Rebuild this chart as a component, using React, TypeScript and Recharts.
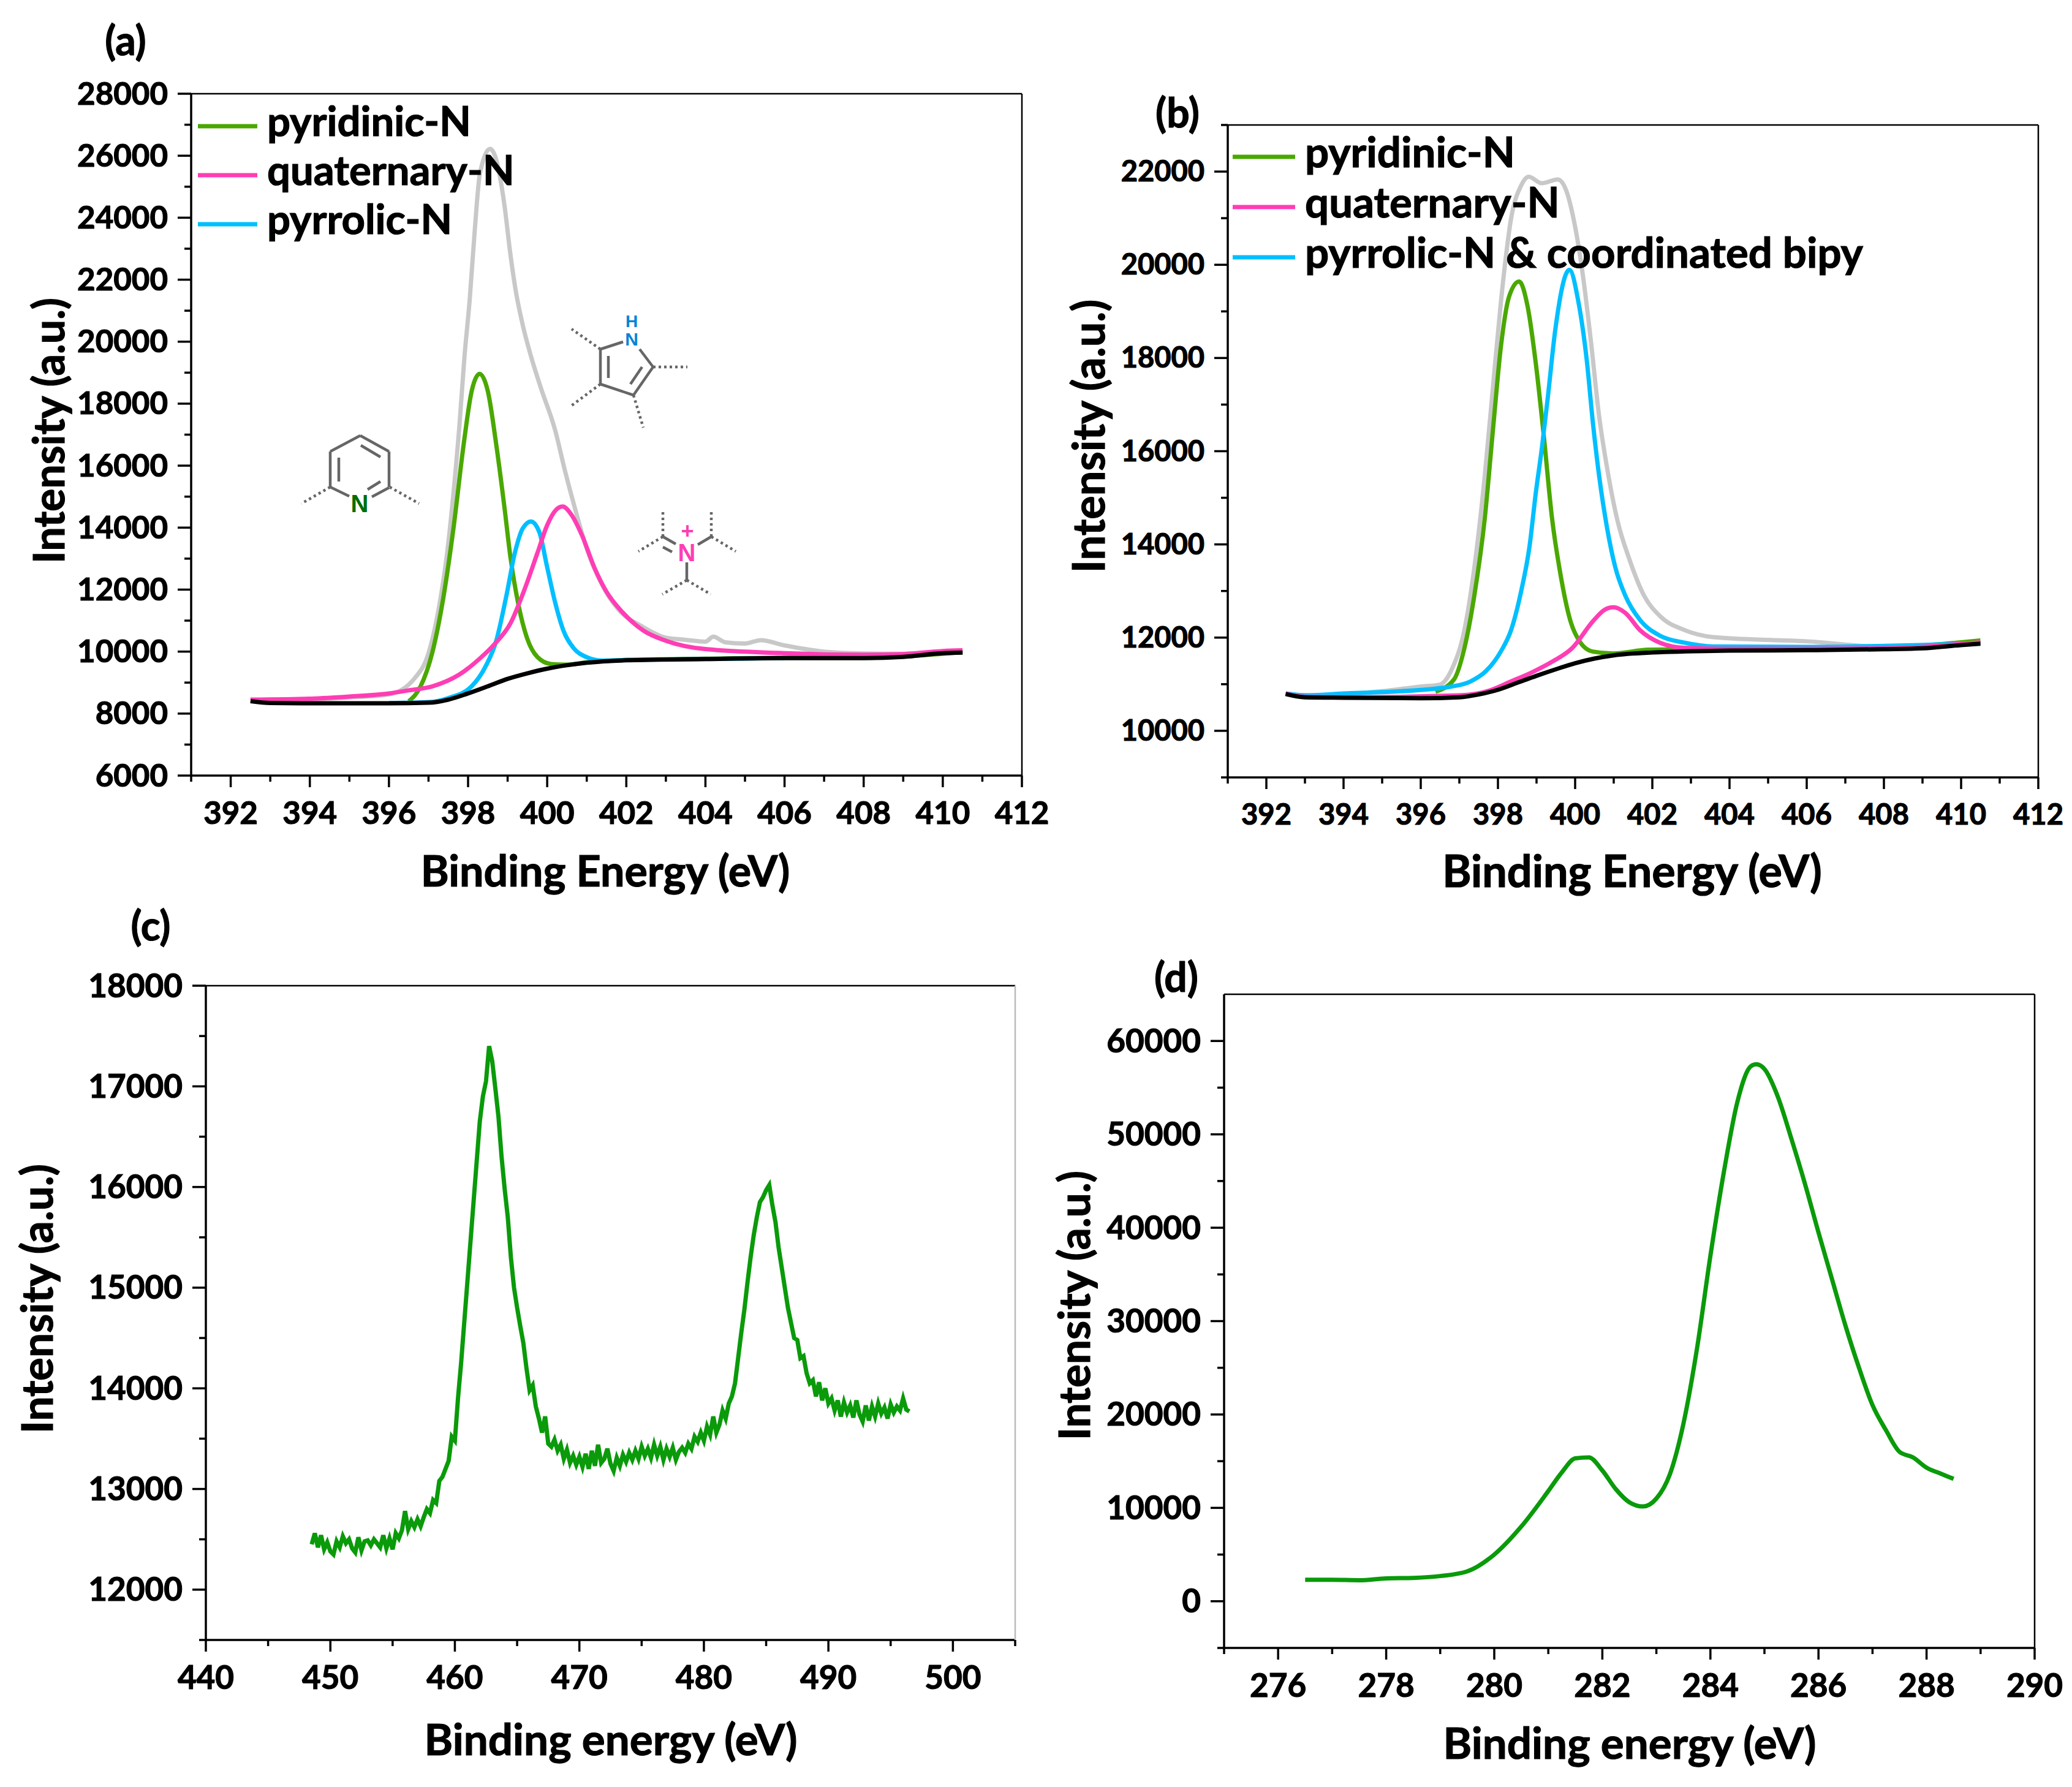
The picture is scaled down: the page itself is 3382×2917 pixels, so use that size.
import React from 'react';
import { LineChart, Line, XAxis, YAxis, Legend, Label } from 'recharts';

const FONT = 'Lato, sans-serif';
const GREEN = '#4aa800';
const PINK = '#ff3db4';
const CYAN = '#00bfff';
const GREY = '#c8c8c8';
const BLACK = '#000000';
const DARK_GREEN = '#0a9a0a';

// --- panel (a) ---
const A_GREY_X = [392.5, 394, 395, 396, 396.65, 397.01, 397.27, 397.47, 397.63, 397.78, 397.91, 398.04, 398.17, 398.3, 398.56, 398.71, 398.92, 399.07, 399.2, 399.38, 399.59, 399.84, 400.2, 400.46, 400.72, 400.98, 401.39, 401.8, 402.43, 403, 403.5, 404, 404.2, 404.5, 405, 405.4, 406, 407, 408, 409, 410.5];
const A_GREY_Y = [8400, 8450, 8520, 8620, 9140, 9990, 11470, 13170, 15100, 17270, 19530, 21340, 23610, 25430, 26220, 25880, 24400, 22820, 21680, 20550, 19530, 18510, 17150, 15780, 14540, 13400, 12150, 11360, 10790, 10450, 10380, 10320, 10480, 10300, 10260, 10370, 10200, 10000, 9940, 9930, 10040];
const A_GREEN_X = [396.5, 396.8, 397.1, 397.37, 397.63, 397.89, 398.09, 398.29, 398.5, 398.71, 398.92, 399.07, 399.28, 399.49, 399.75, 400.1, 400.5, 401, 402, 404, 406, 408, 409, 410.5];
const A_GREEN_Y = [8400, 8880, 9990, 11700, 13970, 16700, 18400, 18960, 18400, 16700, 14650, 13060, 11470, 10440, 9830, 9600, 9580, 9650, 9730, 9770, 9800, 9800, 9840, 9990];
const A_CYAN_X = [396, 397, 397.5, 398.09, 398.45, 398.71, 398.97, 399.18, 399.38, 399.59, 399.8, 400, 400.2, 400.41, 400.67, 400.98, 401.39, 402, 404, 406];
const A_CYAN_Y = [8340, 8370, 8500, 8880, 9540, 10340, 11810, 13170, 13970, 14200, 13860, 12720, 11590, 10680, 10110, 9830, 9710, 9730, 9760, 9790];
const A_PINK_X = [392.5, 394, 395, 396, 396.5, 397.1, 397.78, 398.3, 398.66, 399.07, 399.44, 399.75, 400, 400.2, 400.39, 400.61, 400.88, 401.19, 401.5, 401.91, 402.43, 403, 404, 406, 408, 409, 410, 410.5];
const A_PINK_Y = [8450, 8480, 8550, 8650, 8750, 8880, 9260, 9780, 10230, 10910, 12050, 13170, 14080, 14540, 14680, 14420, 13750, 12720, 11930, 11260, 10680, 10350, 10080, 9950, 9900, 9920, 10020, 10040];
const A_BG_X = [392.5, 393, 394, 396, 397, 397.5, 398, 398.5, 399, 399.5, 400, 400.5, 401, 402, 404, 406, 408, 409, 410, 410.5];
const A_BG_Y = [8400, 8340, 8330, 8330, 8350, 8450, 8650, 8880, 9120, 9300, 9450, 9560, 9640, 9720, 9760, 9790, 9790, 9830, 9950, 9970];

// --- panel (b) ---
const B_GREY_X = [392.5, 393, 395, 396, 396.49, 396.81, 397.13, 397.39, 397.66, 397.92, 398.13, 398.34, 398.6, 398.8, 399.13, 399.55, 399.77, 399.98, 400.2, 400.41, 400.62, 400.83, 401.1, 401.41, 401.78, 402.2, 402.84, 403.58, 405, 406, 408, 410.5];
const B_GREY_Y = [10800, 10760, 10850, 10950, 10990, 11330, 12160, 13510, 15480, 17820, 19620, 20990, 21700, 21890, 21750, 21830, 21590, 20900, 19780, 18350, 16760, 15630, 14500, 13670, 12910, 12460, 12160, 12010, 11950, 11920, 11800, 11880];
const B_GREEN_X = [396.38, 396.86, 397.13, 397.39, 397.66, 397.87, 398.08, 398.29, 398.55, 398.77, 398.98, 399.19, 399.4, 399.62, 399.87, 400.14, 400.46, 400.98, 401.9, 404, 406, 408, 409, 410, 410.5];
const B_GREEN_Y = [10840, 11100, 11770, 12910, 14570, 16450, 18270, 19320, 19640, 19100, 17890, 16310, 14570, 13360, 12380, 11890, 11700, 11660, 11740, 11760, 11780, 11810, 11830, 11900, 11940];
const B_CYAN_X = [392.5, 393, 394, 395, 396.2, 396.76, 397.29, 397.7, 398.08, 398.34, 398.6, 398.82, 398.98, 399.14, 399.3, 399.48, 399.85, 400.09, 400.3, 400.46, 400.62, 400.83, 401.04, 401.3, 401.68, 402.2, 402.84, 403.58, 406, 410.5];
const B_CYAN_Y = [10800, 10760, 10800, 10830, 10890, 10945, 11060, 11290, 11710, 12160, 12990, 13970, 15100, 16080, 17215, 18570, 19890, 19180, 17960, 16610, 15480, 14340, 13510, 12900, 12380, 12040, 11890, 11810, 11800, 11880];
const B_PINK_X = [392.5, 393, 394, 397, 397.8, 398.34, 398.87, 399.4, 399.93, 400.46, 400.75, 400.99, 401.3, 401.68, 402.2, 402.84, 404, 406, 408, 410.5];
const B_PINK_Y = [10800, 10730, 10720, 10760, 10870, 11060, 11250, 11480, 11780, 12350, 12590, 12650, 12530, 12160, 11890, 11780, 11760, 11760, 11770, 11900];
const B_BG_X = [392.5, 393, 394, 396, 397, 397.5, 398, 398.5, 399, 399.5, 400, 400.5, 401, 402, 404, 406, 408, 409, 410, 410.5];
const B_BG_Y = [10790, 10720, 10710, 10700, 10720, 10780, 10880, 11030, 11180, 11320, 11450, 11550, 11620, 11680, 11720, 11730, 11750, 11770, 11840, 11870];

// --- panel (c), one reading every 0.25 eV from 448.5 eV ---
const C_START = 448.5;
const C_STEP = 0.25;
const C_Y = [
  12450, 12560, 12420, 12540, 12400, 12470, 12380, 12350, 12480, 12420, 12530, 12460, 12500, 12410, 12370, 12520, 12390, 12480, 12490, 12440,
  12500, 12460, 12420, 12540, 12410, 12510, 12400, 12560, 12510, 12590, 12780, 12600, 12680, 12620, 12700, 12630, 12720, 12800, 12760, 12890,
  12860, 13080, 13120, 13200, 13280, 13520, 13480, 13900, 14250, 14650, 15050, 15450, 15850, 16250, 16650, 16900, 17050, 17400, 17250, 16980,
  16700, 16300, 15980, 15700, 15300, 15000, 14800, 14620, 14450, 14200, 13980, 14030, 13820, 13700, 13560, 13720, 13450, 13420, 13490, 13380,
  13440, 13300, 13390, 13260, 13330, 13240, 13320, 13220, 13350, 13200, 13380, 13230, 13440, 13260, 13300, 13400, 13250, 13180, 13310, 13230,
  13340, 13270, 13360, 13290, 13380, 13300, 13420, 13330, 13400, 13310, 13440, 13330, 13420, 13290, 13400, 13320, 13410, 13290, 13370, 13410,
  13360, 13450, 13400, 13520, 13470, 13560, 13480, 13620, 13540, 13720, 13560, 13640, 13780, 13700, 13850, 13920, 14050, 14300, 14550, 14780,
  15050, 15300, 15520, 15700, 15850, 15900, 15970, 16020, 15820, 15650, 15400, 15200, 15000, 14800, 14650, 14500, 14480, 14300, 14320, 14150,
  14050, 14080, 13920, 14060, 13880, 14000, 13850, 13900, 13780, 13880, 13720, 13860, 13760, 13830, 13710, 13880, 13740, 13670, 13830, 13680,
  13820, 13720, 13850, 13750, 13810, 13700, 13840, 13760, 13820, 13780, 13900, 13790, 13770,
];

// --- panel (d) ---
const D_X = [276.5, 277, 277.5, 278, 278.5, 279, 279.5, 280, 280.5, 281, 281.25, 281.5, 281.75, 282, 282.25, 282.5, 282.75, 283, 283.25, 283.5, 283.75, 284, 284.25, 284.5, 284.75, 284.85, 285, 285.25, 285.5, 285.75, 286, 286.25, 286.5, 286.75, 287, 287.25, 287.5, 287.75, 288, 288.25, 288.5];
const D_Y = [2300, 2300, 2250, 2450, 2500, 2700, 3200, 5000, 8000, 11800, 13800, 15300, 15400, 14000, 12000, 10600, 10150, 11000, 13600, 19000, 27000, 37000, 46000, 53500, 57300, 57500, 57000, 54000, 49500, 44700, 39500, 34500, 29500, 25000, 21000, 18300, 16000, 15400, 14300, 13700, 13100];

const C_X = C_Y.map((_, i) => C_START + i * C_STEP);

// tick labels
const XE_MAJOR = [392, 394, 396, 398, 400, 402, 404, 406, 408, 410, 412];
const XE_MINOR = [391, 393, 395, 397, 399, 401, 403, 405, 407, 409, 411];
const A_Y_MAJOR = [6000, 8000, 10000, 12000, 14000, 16000, 18000, 20000, 22000, 24000, 26000, 28000];
const A_Y_MINOR = [7000, 9000, 11000, 13000, 15000, 17000, 19000, 21000, 23000, 25000, 27000];
const B_Y_MAJOR = [10000, 12000, 14000, 16000, 18000, 20000, 22000];
const B_Y_MINOR = [9000, 11000, 13000, 15000, 17000, 19000, 21000, 23000];
const C_X_MAJOR = [440, 450, 460, 470, 480, 490, 500];
const C_X_MINOR = [445, 455, 465, 475, 485, 495, 505];
const C_Y_MAJOR = [12000, 13000, 14000, 15000, 16000, 17000, 18000];
const C_Y_MINOR = [11500, 12500, 13500, 14500, 15500, 16500, 17500];
const D_X_MAJOR = [276, 278, 280, 282, 284, 286, 288, 290];
const D_X_MINOR = [275, 277, 279, 281, 283, 285, 287, 289];
const D_Y_MAJOR = [0, 10000, 20000, 30000, 40000, 50000, 60000];
const D_Y_MINOR = [-5000, 5000, 15000, 25000, 35000, 45000, 55000];

const LEGEND_A = ['pyridinic-N', 'quaternary-N', 'pyrrolic-N'];
const LEGEND_B = ['pyridinic-N', 'quaternary-N', 'pyrrolic-N & coordinated bipy'];

const toPoints = (xs: number[], ys: number[]) => xs.map((x, i) => ({ x, y: ys[i] }));

interface SeriesDef {
  name: string;
  color: string;
  xs: number[];
  ys: number[];
  curve?: 'monotone' | 'linear';
  inLegend?: boolean;
}

interface PanelProps {
  plot: { left: number; top: number; right: number; bottom: number };
  xDomain: [number, number];
  yDomain: [number, number];
  xMajor: number[];
  xMinor: number[];
  yMajor: number[];
  yMinor: number[];
  tickFont: number;
  xTitle: string;
  xTitlePos: [number, number];
  yTitlePos: [number, number];
  titleFont: number;
  series: SeriesDef[];
  frameColor?: string;
  legend?: { names: string[]; left: number; top: number; rowGap: number; lineW: number; font: number };
}

const PAD_LEFT = 330;
const PAD_RIGHT = 70;
const PAD_TOP = 40;
const PAD_BOTTOM = 220;
const LINE_W = 7;
// thickens the glyphs a little, the reference text is heavy
const heavy = { stroke: '#000', strokeWidth: 1.2 };

const Panel: React.FC<PanelProps> = (p) => {
  const chartLeft = p.plot.left - PAD_LEFT;
  const chartTop = p.plot.top - PAD_TOP;
  const width = p.plot.right - p.plot.left + PAD_LEFT + PAD_RIGHT;
  const height = p.plot.bottom - p.plot.top + PAD_TOP + PAD_BOTTOM;

  const xTick = (t: any) => {
    const major = p.xMajor.includes(t.payload.value);
    return (
      <g>
        <line x1={t.x} x2={t.x} y1={t.y} y2={t.y + (major ? 19 : 10)} stroke="#000" strokeWidth={3.5} />
        {major && (
          <text x={t.x} y={t.y + 59} textAnchor="middle" dominantBaseline="central" fontFamily={FONT} fontWeight={700} fontSize={p.tickFont} fill="#000" {...heavy}>
            {t.payload.value}
          </text>
        )}
      </g>
    );
  };

  const yTick = (t: any) => {
    const major = p.yMajor.includes(t.payload.value);
    return (
      <g>
        <line x1={t.x - (major ? 22 : 11)} x2={t.x} y1={t.y} y2={t.y} stroke="#000" strokeWidth={3.5} />
        {major && (
          <text x={t.x - 38} y={t.y - 2} textAnchor="end" dominantBaseline="central" fontFamily={FONT} fontWeight={700} fontSize={p.tickFont} fill="#000" {...heavy}>
            {t.payload.value}
          </text>
        )}
      </g>
    );
  };

  const renderLegend = (props: any) => {
    const items = props.payload || [];
    return (
      <svg width={1000} height={p.legend!.rowGap * 3} style={{ display: 'block', overflow: 'visible' }}>
        {p.legend!.names.map((name, i) => {
          const item = items.find((it: any) => it.value === name);
          const cy = p.legend!.rowGap * i + p.legend!.rowGap / 2;
          return (
            <g key={name}>
              <line x1={0} x2={p.legend!.lineW} y1={cy + 10} y2={cy + 10} stroke={item ? item.color : '#000'} strokeWidth={LINE_W} />
              <text x={p.legend!.lineW + 16} y={cy} dominantBaseline="central" fontFamily={FONT} fontWeight={700} fontSize={p.legend!.font} fill="#000" {...heavy}>
                {name}
              </text>
            </g>
          );
        })}
      </svg>
    );
  };

  return (
    <div style={{ position: 'absolute', left: chartLeft, top: chartTop }}>
      <LineChart width={width} height={height} margin={{ top: PAD_TOP - 1, right: PAD_RIGHT - 1, left: 0, bottom: 0 }}>
        <XAxis
          type="number"
          dataKey="x"
          domain={p.xDomain}
          allowDataOverflow
          ticks={[...p.xMajor, ...p.xMinor].sort((a, b) => a - b)}
          interval={0}
          height={PAD_BOTTOM}
          tickSize={0}
          tickMargin={0}
          tickLine={false}
          tick={xTick}
          axisLine={{ stroke: '#000', strokeWidth: 3.5 }}
        >
          <Label
            content={() => (
              <text x={p.xTitlePos[0] - chartLeft} y={p.xTitlePos[1] - chartTop} textAnchor="middle" dominantBaseline="central" fontFamily={FONT} fontWeight={700} fontSize={p.titleFont} fill="#000" {...heavy}>
                {p.xTitle}
              </text>
            )}
          />
        </XAxis>
        <XAxis xAxisId="top" orientation="top" type="number" domain={p.xDomain} ticks={p.xMajor} height={1} tick={false} tickLine={false} axisLine={{ stroke: '#000', strokeWidth: 2.5 }} />
        <YAxis
          type="number"
          domain={p.yDomain}
          allowDataOverflow
          ticks={[...p.yMajor, ...p.yMinor].sort((a, b) => a - b)}
          interval={0}
          width={PAD_LEFT}
          tickSize={0}
          tickMargin={0}
          tickLine={false}
          tick={yTick}
          axisLine={{ stroke: '#000', strokeWidth: 3.5 }}
        >
          <Label
            content={() => {
              const lx = p.yTitlePos[0] - chartLeft;
              const ly = p.yTitlePos[1] - chartTop;
              return (
                <text x={lx} y={ly} transform={`rotate(-90 ${lx} ${ly})`} textAnchor="middle" dominantBaseline="central" fontFamily={FONT} fontWeight={700} fontSize={p.titleFont} fill="#000" {...heavy}>
                  Intensity (a.u.)
                </text>
              );
            }}
          />
        </YAxis>
        <YAxis yAxisId="right" orientation="right" type="number" domain={p.yDomain} ticks={p.yMajor} width={1} tick={false} tickLine={false} axisLine={{ stroke: p.frameColor || '#000', strokeWidth: 2.5 }} />
        {p.legend && (
          <Legend
            layout="vertical"
            align="center"
            verticalAlign="middle"
            content={renderLegend}
            wrapperStyle={{ left: p.legend.left - chartLeft, top: p.legend.top - chartTop, width: 1000 }}
          />
        )}
        {p.series.map((s) => (
          <Line
            key={s.name}
            name={s.name}
            data={toPoints(s.xs, s.ys)}
            dataKey="y"
            type={s.curve || 'monotone'}
            stroke={s.color}
            strokeWidth={LINE_W}
            dot={false}
            legendType={s.inLegend ? 'line' : 'none'}
            isAnimationActive={false}
          />
        ))}
      </LineChart>
    </div>
  );
};

// chemical sketches next to the curves in panel (a)
const BONDS = [
  // pyridine
  [588, 711, 635, 737], [635, 737, 635, 795], [539, 795, 539, 737], [539, 737, 588, 711], [635, 796, 607, 811], [539, 795, 570, 810],
  [553, 747, 553, 786], [589, 727, 621, 746], [600, 799, 621, 786],
  // pyrrole
  [980, 570, 1017, 558], [1044, 570, 1066, 599], [980, 570, 980, 627], [980, 627, 1034, 645], [1034, 645, 1066, 599],
  [993, 581, 993, 617], [1029, 627, 1048, 599],
  // quaternary
  [1082, 876, 1103, 888], [1082, 893, 1097, 901], [1161, 876, 1139, 889], [1121, 918, 1121, 947],
];
const DASHED_BONDS = [
  [539, 795, 492, 822], [636, 795, 684, 822],
  [980, 570, 933, 537], [980, 627, 933, 662], [1034, 645, 1050, 698], [1066, 599, 1122, 599],
  [1082, 876, 1082, 831], [1082, 876, 1042, 900], [1161, 876, 1161, 831], [1161, 876, 1201, 900], [1121, 947, 1081, 970], [1121, 947, 1160, 970],
];
const ATOMS = [
  { label: 'N', x: 587, y: 822, color: '#006e00', size: 40 },
  { label: 'H', x: 1031, y: 524, color: '#0085d5', size: 28 },
  { label: 'N', x: 1031, y: 553, color: '#0085d5', size: 30 },
  { label: '+', x: 1122, y: 866, color: PINK, size: 36 },
  { label: 'N', x: 1121, y: 902, color: PINK, size: 40 },
];

const Sketches = () => (
  <svg width={3382} height={2917} style={{ position: 'absolute', left: 0, top: 0, pointerEvents: 'none' }}>
    {BONDS.map((b, i) => (
      <line key={i} x1={b[0]} y1={b[1]} x2={b[2]} y2={b[3]} stroke="#666" strokeWidth={4.5} />
    ))}
    {DASHED_BONDS.map((b, i) => (
      <line key={i} x1={b[0]} y1={b[1]} x2={b[2]} y2={b[3]} stroke="#666" strokeWidth={4.5} strokeDasharray="4 5" />
    ))}
    {ATOMS.map((a, i) => (
      <text key={i} x={a.x} y={a.y} textAnchor="middle" dominantBaseline="central" fontFamily="'Liberation Sans', sans-serif" fontWeight={700} fontSize={a.size} fill={a.color}>
        {a.label}
      </text>
    ))}
  </svg>
);

const PANEL_LABELS = [
  { text: '(a)', x: 205, y: 64 },
  { text: '(b)', x: 1922, y: 182 },
  { text: '(c)', x: 246, y: 1509 },
  { text: '(d)', x: 1920, y: 1593 },
];

export default function App() {
  return (
    <div style={{ position: 'absolute', left: 0, top: 0, width: 3382, height: 2917, overflow: 'hidden', background: '#fff' }}>
      <Panel
        plot={{ left: 312, top: 153, right: 1668, bottom: 1266 }}
        xDomain={[391, 412]}
        yDomain={[6000, 28000]}
        xMajor={XE_MAJOR}
        xMinor={XE_MINOR}
        yMajor={A_Y_MAJOR}
        yMinor={A_Y_MINOR}
        tickFont={51}
        xTitle="Binding Energy (eV)"
        xTitlePos={[988, 1420]}
        yTitlePos={[78, 703]}
        titleFont={70}
        legend={{ names: LEGEND_A, left: 323, top: 156, rowGap: 80, lineW: 97, font: 67 }}
        series={[
          { name: 'envelope', color: GREY, xs: A_GREY_X, ys: A_GREY_Y },
          { name: 'pyridinic-N', color: GREEN, xs: A_GREEN_X, ys: A_GREEN_Y, inLegend: true },
          { name: 'pyrrolic-N', color: CYAN, xs: A_CYAN_X, ys: A_CYAN_Y, inLegend: true },
          { name: 'quaternary-N', color: PINK, xs: A_PINK_X, ys: A_PINK_Y, inLegend: true },
          { name: 'background', color: BLACK, xs: A_BG_X, ys: A_BG_Y },
        ]}
      />
      <Panel
        plot={{ left: 2004, top: 204, right: 3327, bottom: 1269 }}
        xDomain={[391, 412]}
        yDomain={[9000, 23000]}
        xMajor={XE_MAJOR}
        xMinor={XE_MINOR}
        yMajor={B_Y_MAJOR}
        yMinor={B_Y_MINOR}
        tickFont={47}
        xTitle="Binding Energy (eV)"
        xTitlePos={[2664, 1420]}
        yTitlePos={[1775, 712]}
        titleFont={72}
        legend={{ names: LEGEND_B, left: 2012, top: 205, rowGap: 82, lineW: 102, font: 69 }}
        series={[
          { name: 'envelope', color: GREY, xs: B_GREY_X, ys: B_GREY_Y },
          { name: 'pyridinic-N', color: GREEN, xs: B_GREEN_X, ys: B_GREEN_Y, inLegend: true },
          { name: 'pyrrolic-N & coordinated bipy', color: CYAN, xs: B_CYAN_X, ys: B_CYAN_Y, inLegend: true },
          { name: 'quaternary-N', color: PINK, xs: B_PINK_X, ys: B_PINK_Y, inLegend: true },
          { name: 'background', color: BLACK, xs: B_BG_X, ys: B_BG_Y },
        ]}
      />
      <Panel
        plot={{ left: 336, top: 1609, right: 1657, bottom: 2677 }}
        xDomain={[440, 505]}
        yDomain={[11500, 18000]}
        xMajor={C_X_MAJOR}
        xMinor={C_X_MINOR}
        yMajor={C_Y_MAJOR}
        yMinor={C_Y_MINOR}
        tickFont={53}
        xTitle="Binding energy (eV)"
        xTitlePos={[997, 2837]}
        yTitlePos={[58, 2120]}
        titleFont={71}
        frameColor="#bbbbbb"
        series={[{ name: 'Ti 2p', color: DARK_GREEN, xs: C_X, ys: C_Y, curve: 'linear' }]}
      />
      <Panel
        plot={{ left: 1998, top: 1623, right: 3321, bottom: 2690 }}
        xDomain={[275, 290]}
        yDomain={[-5000, 65000]}
        xMajor={D_X_MAJOR}
        xMinor={D_X_MINOR}
        yMajor={D_Y_MAJOR}
        yMinor={D_Y_MINOR}
        tickFont={53}
        xTitle="Binding energy (eV)"
        xTitlePos={[2660, 2843]}
        yTitlePos={[1751, 2131]}
        titleFont={71}
        series={[{ name: 'C 1s', color: DARK_GREEN, xs: D_X, ys: D_Y }]}
      />
      <Sketches />
      <svg width={3382} height={2917} style={{ position: 'absolute', left: 0, top: 0, pointerEvents: 'none' }}>
        {PANEL_LABELS.map((l) => (
          <text key={l.text} x={l.x} y={l.y} textAnchor="middle" dominantBaseline="central" fontFamily={FONT} fontWeight={700} fontSize={66} fill="#000" {...heavy}>
            {l.text}
          </text>
        ))}
      </svg>
    </div>
  );
}
